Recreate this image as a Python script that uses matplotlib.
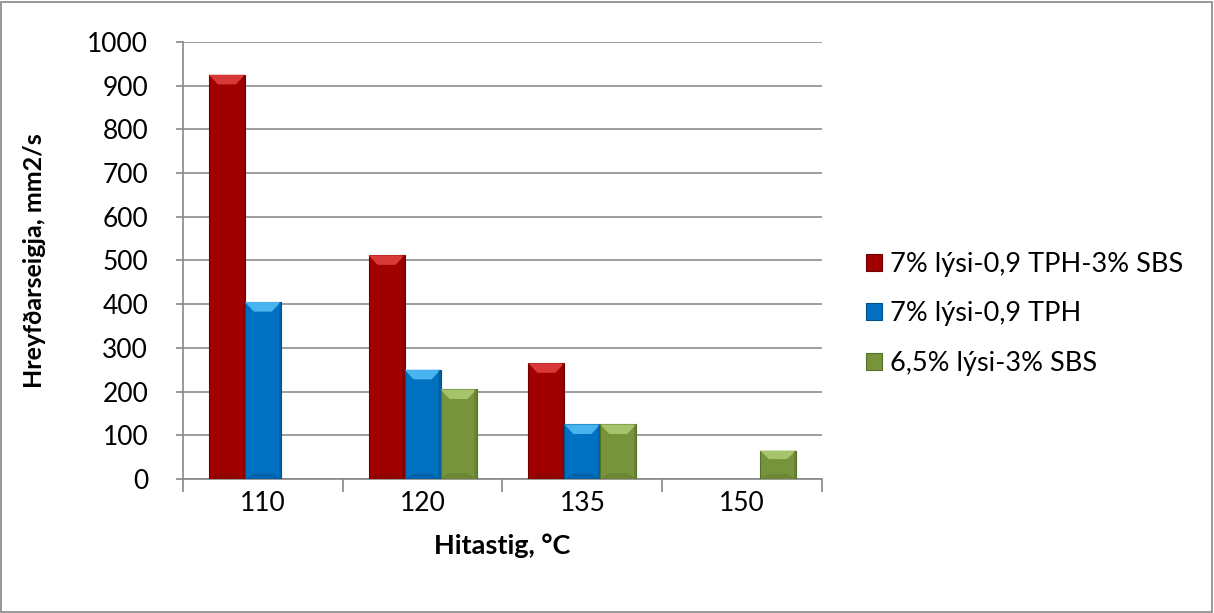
import numpy as np
import matplotlib.pyplot as plt
from matplotlib.patches import Polygon, Rectangle

plt.rcParams['font.family'] = ['Lato', 'DejaVu Sans']

categories = ['110', '120', '135', '150']
series_names = ['7% lýsi-0,9 TPH-3% SBS', '7% lýsi-0,9 TPH', '6,5% lýsi-3% SBS']
red_vals = [925, 512, 265, np.nan]
blue_vals = [405, 250, 125, np.nan]
green_vals = [np.nan, 205, 125, 65]

colors = ['#A00000', '#0070C0', '#77933C']
lights = ['#D83838', '#4AB4F0', '#A6C46C']
darks = ['#700000', '#00508A', '#55702A']

fig = plt.figure(figsize=(12.14, 6.13), dpi=100)
ax = fig.add_axes([0.1507, 0.2186, 0.5264, 0.7129])

x = np.arange(len(categories))
w = 0.225
bars = []
for i, vals in enumerate([red_vals, blue_vals, green_vals]):
    b = ax.bar(x + (i - 1) * w, vals, w, color=colors[i], edgecolor=darks[i],
               linewidth=0.8, zorder=3, label=series_names[i])
    bars.append(b)

ax.set_xlim(-0.5, 3.5)
ax.set_ylim(0, 1000)
ax.set_yticks(range(0, 1001, 100))
ax.set_xticks(x)
ax.set_xticklabels(categories)
ax.set_xticks(np.arange(-0.5, 3.6, 1), minor=True)
ax.tick_params(axis='x', which='major', length=0, pad=9, labelsize=19)
ax.tick_params(axis='x', which='minor', length=9, color='#888888', width=1.2)
ax.tick_params(axis='y', length=5, color='#888888', width=1.2, labelsize=19, pad=20)
ax.grid(axis='y', color='#8c8c8c', linewidth=1.2, zorder=0)
for s in ['top', 'right']:
    ax.spines[s].set_visible(False)
for s in ['left', 'bottom']:
    ax.spines[s].set_color('#888888')
    ax.spines[s].set_linewidth(1.2)

ax.set_ylabel('Hreyfðarseigja, mm2/s', fontsize=18, fontweight='bold', labelpad=30)
ax.set_xlabel('Hitastig, °C', fontsize=19.5, fontweight='bold', labelpad=12)

# bevel shading on each bar
for i, b in enumerate(bars):
    for p in b.patches:
        h = p.get_height()
        if not np.isfinite(h) or h <= 0:
            continue
        x0, x1 = p.get_x(), p.get_x() + p.get_width()
        by = min(22, h * 0.3)
        bxd = p.get_width() * 0.25
        top = Polygon([(x0, h), (x1, h), (x1 - bxd, h - by), (x0 + bxd, h - by)],
                      closed=True, color=lights[i], lw=0, zorder=4)
        bot = Polygon([(x0, 0), (x1, 0), (x1 - bxd, by * 0.6), (x0 + bxd, by * 0.6)],
                      closed=True, color=darks[i], alpha=0.35, lw=0, zorder=4)
        side = Rectangle((x1 - p.get_width() * 0.06, 0), p.get_width() * 0.06, h,
                         color=darks[i], alpha=0.4, lw=0, zorder=4)
        ax.add_patch(top)
        ax.add_patch(bot)
        ax.add_patch(side)

leg = fig.legend(handles=[bb.patches[0] if i != 2 else bb.patches[1] for i, bb in enumerate(bars)],
                 labels=series_names, loc='center left', bbox_to_anchor=(0.693, 0.488),
                 frameon=False, fontsize=19.5, handlelength=0.6, handleheight=0.6,
                 handletextpad=0.3, labelspacing=0.9)

fig.patches.append(Rectangle((0.001, 0.002), 0.997, 0.995, transform=fig.transFigure,
                             fill=False, edgecolor='#888888', linewidth=1.2))

fig.savefig('out.png', dpi=100)
